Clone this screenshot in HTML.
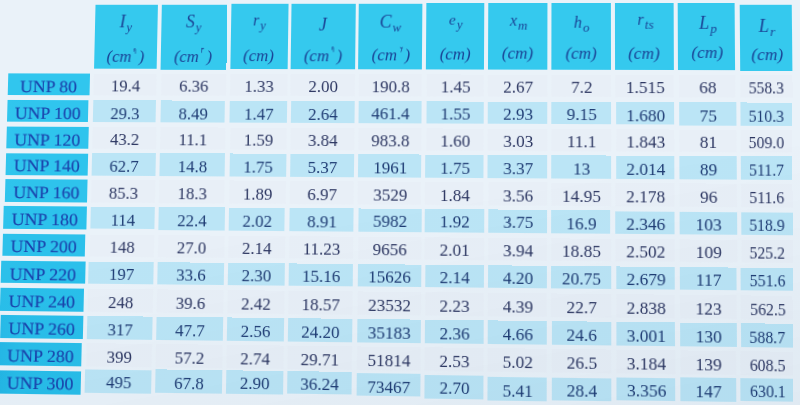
<!DOCTYPE html>
<html><head><meta charset="utf-8"><style>
html,body{margin:0;padding:0;}
body{width:800px;height:405px;overflow:hidden;position:relative;background:#eaf2f9;font-family:"Liberation Serif",serif;}
#bgl{position:absolute;left:0;top:0;width:800px;height:405px;background:none;}
#shade{position:absolute;left:0;top:0;width:800px;height:405px;background:linear-gradient(170deg, rgba(0,50,90,0) 0%, rgba(0,50,90,0) 50%, rgba(0,50,90,0.04) 100%);pointer-events:none;}
#t{position:absolute;left:0;top:0;width:800px;height:405px;transform-origin:0 0;transform:matrix3d(0.9662331,-0.0001377,0,-0.000034999,-0.0269525,0.9759455,0,-0.000045831,0,0,1,0,3.52187,-0.10008,0,1);}
#wrap{position:absolute;left:0;top:0;width:800px;height:405px;filter:none;}
.c{position:absolute;box-sizing:border-box;}
.h{background:#35c9ee;}
.lab{background:#2dc6ed;}
.blue{background:#bbe5f6;}
.light{background:#e8eff7;}
.tx{position:absolute;left:0;right:0;text-align:center;white-space:nowrap;-webkit-text-stroke:0px currentColor;}
.h .tx{-webkit-text-stroke:0px currentColor;}
.lab .tx{-webkit-text-stroke:0.15px currentColor;}
.num{font-size:17px;color:#2d3762;line-height:20px;}
.blue .num{color:#1f3c74;}
.lt{font-size:17px;color:#1a43ac;line-height:20px;transform:scaleX(1.07);}
.sym{font-style:italic;font-size:18px;color:#1a4496;line-height:20px;}
.sym sub{font-size:13px;vertical-align:baseline;position:relative;top:4px;margin-left:1px;}
.unit{font-style:italic;font-size:17px;color:#1a4496;line-height:20px;}
.unit .sp{display:inline-block;vertical-align:baseline;position:relative;top:-9px;margin-left:1.5px;margin-right:1.5px;overflow:visible;}
.unit sup{margin-left:2px;font-size:9px;vertical-align:baseline;position:relative;top:-8px;font-style:normal;}
</style></head><body><div id="bgl"></div><div id="wrap"><div id="t">
<div class="c h" style="left:94.70px;top:4.61px;width:64.25px;height:65.87px"><div class="tx sym" style="top:7.0px;left:-0.2px;right:0.2px;font-size:18px">I<sub>y</sub></div><div class="tx unit" style="top:43.45px;left:0px;right:0px">(cm<svg class="sp" viewBox="0 0 10 14" width="4.5" height="5.5"><path d="M7,14 L7,4 Q7,1 4,2 Q2,3 4.5,5 Q2,6 3,8.5" fill="none" stroke="currentColor" stroke-width="1.8" stroke-linecap="round"/></svg>)</div></div>
<div class="c h" style="left:163.30px;top:4.96px;width:66.64px;height:65.56px"><div class="tx sym" style="top:7.4px;left:-0.7px;right:0.7px;font-size:18px">S<sub>y</sub></div><div class="tx unit" style="top:43px;left:-0.9px;right:0.9px">(cm<svg class="sp" viewBox="0 0 10 14" width="4.5" height="5.5"><path d="M3,14 L3,3 M3,5 Q4,1 5.5,4.5 Q7,1 9,4" fill="none" stroke="currentColor" stroke-width="1.8" stroke-linecap="round"/></svg>)</div></div>
<div class="c h" style="left:233.69px;top:4.45px;width:58.01px;height:65.91px"><div class="tx sym" style="top:6.5px;left:0.0px;right:-0.0px;font-size:16px">r<sub>y</sub></div><div class="tx unit" style="top:42.25px;left:-0.3px;right:0.3px">(cm)</div></div>
<div class="c h" style="left:295.19px;top:3.95px;width:64.36px;height:66.27px"><div class="tx sym" style="top:10.95px;left:-0.35px;right:0.35px;font-size:18px">J</div><div class="tx unit" style="top:43px;left:0.15px;right:-0.15px">(cm<svg class="sp" viewBox="0 0 10 14" width="4.5" height="5.5"><path d="M7,14 L7,4 Q7,1 4,2 Q2,3 4.5,5 Q2,6 3,8.5" fill="none" stroke="currentColor" stroke-width="1.8" stroke-linecap="round"/></svg>)</div></div>
<div class="c h" style="left:363.33px;top:3.62px;width:63.95px;height:66.54px"><div class="tx sym" style="top:8.5px;left:-0.25px;right:0.25px;font-size:18px">C<sub>w</sub></div><div class="tx unit" style="top:42.8px;left:0.6px;right:-0.6px">(cm<svg class="sp" viewBox="0 0 10 14" width="4.5" height="5.5"><path d="M2,2.5 Q5,5.5 8,2.5 M7.5,3 Q6,8 4,14" fill="none" stroke="currentColor" stroke-width="1.8" stroke-linecap="round"/></svg>)</div></div>
<div class="c h" style="left:431.48px;top:3.29px;width:57.50px;height:66.81px"><div class="tx sym" style="top:6.7px;left:0.4px;right:-0.4px;font-size:15.5px">e<sub>y</sub></div><div class="tx unit" style="top:42px;left:0px;right:0px">(cm)</div></div>
<div class="c h" style="left:493.27px;top:3.14px;width:58.64px;height:66.71px"><div class="tx sym" style="top:7.5px;left:0.8px;right:-0.8px;font-size:16px">x<sub>m</sub></div><div class="tx unit" style="top:41px;left:-0.15px;right:0.15px">(cm)</div></div>
<div class="c h" style="left:556.18px;top:3.00px;width:59.12px;height:66.62px"><div class="tx sym" style="top:9.9px;left:0.3px;right:-0.3px;font-size:16px">h<sub>o</sub></div><div class="tx unit" style="top:41px;left:-0.25px;right:0.25px">(cm)</div></div>
<div class="c h" style="left:619.01px;top:3.15px;width:57.92px;height:66.77px"><div class="tx sym" style="top:7.3px;left:1.3px;right:-1.3px;font-size:16px">r<sub>ts</sub></div><div class="tx unit" style="top:41px;left:-0.45px;right:0.45px">(cm)</div></div>
<div class="c h" style="left:681.26px;top:3.30px;width:56.09px;height:66.92px"><div class="tx sym" style="top:9.5px;left:1.4px;right:-1.4px;font-size:18px">L<sub>p</sub></div><div class="tx unit" style="top:39.7px;left:0.65px;right:-0.65px">(cm)</div></div>
<div class="c h" style="left:741.76px;top:4.90px;width:51.16px;height:65.98px"><div class="tx sym" style="top:11.6px;left:1.3px;right:-1.3px;font-size:18px">L<sub>r</sub></div><div class="tx unit" style="top:40.5px;left:1.25px;right:-1.25px">(cm)</div></div>
<div class="c lab" style="background:linear-gradient(90deg,#31c6ee,#31c6ee 25%);left:7.10px;top:74.83px;width:83.52px;height:22.23px"><div class="tx lt" style="top:3.8px;left:0px;right:0px">UNP 80</div></div>
<div class="c light" style="left:94.82px;top:74.83px;width:64.39px;height:22.23px"><div class="tx num" style="top:3.5px;left:0.5px;right:-0.5px">19.4</div></div>
<div class="c light" style="left:163.55px;top:74.83px;width:66.06px;height:22.23px"><div class="tx num" style="top:3.5px;left:0.5px;right:-0.5px">6.36</div></div>
<div class="c light" style="left:234.03px;top:74.83px;width:57.81px;height:22.23px"><div class="tx num" style="top:3.5px;left:0.5px;right:-0.5px">1.33</div></div>
<div class="c light" style="left:295.34px;top:74.83px;width:64.37px;height:22.23px"><div class="tx num" style="top:3.5px;left:0.5px;right:-0.5px">2.00</div></div>
<div class="c light" style="left:363.73px;top:74.83px;width:63.26px;height:22.23px"><div class="tx num" style="top:3.5px;left:0.5px;right:-0.5px">190.8</div></div>
<div class="c light" style="left:431.59px;top:74.83px;width:57.40px;height:22.23px"><div class="tx num" style="top:3.5px;left:0.5px;right:-0.5px">1.45</div></div>
<div class="c light" style="left:493.25px;top:74.83px;width:58.83px;height:22.23px"><div class="tx num" style="top:3.5px;left:0.5px;right:-0.5px">2.67</div></div>
<div class="c light" style="left:556.07px;top:74.83px;width:59.19px;height:22.23px"><div class="tx num" style="top:3.5px;left:0.5px;right:-0.5px">7.2</div></div>
<div class="c light" style="left:619.46px;top:74.83px;width:57.72px;height:22.23px"><div class="tx num" style="top:3.5px;left:0.5px;right:-0.5px">1.515</div></div>
<div class="c light" style="left:681.79px;top:74.83px;width:55.70px;height:22.23px"><div class="tx num" style="top:3.5px;left:0.5px;right:-0.5px">68</div></div>
<div class="c light" style="left:741.84px;top:74.83px;width:50.73px;height:22.23px"><div class="tx num" style="top:3.5px;left:0.5px;right:-0.5px;transform:scaleX(0.9)">558.3</div></div>
<div class="c lab" style="background:linear-gradient(90deg,#31c6ee,#30c5ee 25%);left:7.13px;top:101.82px;width:83.31px;height:22.47px"><div class="tx lt" style="top:3.8px;left:0px;right:0px">UNP 100</div></div>
<div class="c blue" style="left:94.94px;top:102.16px;width:64.54px;height:22.21px"><div class="tx num" style="top:3.5px;left:0.5px;right:-0.5px">29.3</div></div>
<div class="c blue" style="left:163.81px;top:102.18px;width:65.49px;height:22.07px"><div class="tx num" style="top:3.5px;left:0.5px;right:-0.5px">8.49</div></div>
<div class="c blue" style="left:234.36px;top:102.20px;width:57.60px;height:21.94px"><div class="tx num" style="top:3.5px;left:0.5px;right:-0.5px">1.47</div></div>
<div class="c blue" style="left:295.50px;top:102.22px;width:64.38px;height:21.80px"><div class="tx num" style="top:3.5px;left:0.5px;right:-0.5px">2.64</div></div>
<div class="c blue" style="left:364.14px;top:101.99px;width:62.57px;height:22.00px"><div class="tx num" style="top:3.5px;left:0.5px;right:-0.5px">461.4</div></div>
<div class="c blue" style="left:431.70px;top:101.77px;width:57.30px;height:22.20px"><div class="tx num" style="top:3.5px;left:0.5px;right:-0.5px">1.55</div></div>
<div class="c blue" style="left:493.23px;top:101.54px;width:59.03px;height:22.40px"><div class="tx num" style="top:3.5px;left:0.5px;right:-0.5px">2.93</div></div>
<div class="c blue" style="left:555.97px;top:101.94px;width:59.25px;height:22.10px"><div class="tx num" style="top:3.5px;left:0.5px;right:-0.5px">9.15</div></div>
<div class="c blue" style="left:619.90px;top:102.34px;width:57.51px;height:21.80px"><div class="tx num" style="top:3.5px;left:0.5px;right:-0.5px">1.680</div></div>
<div class="c blue" style="left:682.32px;top:102.23px;width:55.30px;height:22.29px"><div class="tx num" style="top:3.5px;left:0.5px;right:-0.5px">75</div></div>
<div class="c blue" style="left:741.91px;top:102.13px;width:50.30px;height:22.79px"><div class="tx num" style="top:3.5px;left:0.5px;right:-0.5px;transform:scaleX(0.9)">510.3</div></div>
<div class="c lab" style="background:linear-gradient(90deg,#31c5ee,#2fc4ed 25%);left:7.05px;top:128.74px;width:83.72px;height:22.52px"><div class="tx lt" style="top:3.8px;left:0px;right:0px">UNP 120</div></div>
<div class="c light" style="left:94.94px;top:128.74px;width:64.65px;height:22.52px"><div class="tx num" style="top:3.5px;left:0.5px;right:-0.5px">43.2</div></div>
<div class="c light" style="left:163.91px;top:128.74px;width:65.73px;height:22.52px"><div class="tx num" style="top:3.5px;left:0.5px;right:-0.5px">11.1</div></div>
<div class="c light" style="left:234.50px;top:128.74px;width:57.34px;height:22.52px"><div class="tx num" style="top:3.5px;left:0.5px;right:-0.5px">1.59</div></div>
<div class="c light" style="left:295.74px;top:128.74px;width:64.05px;height:22.52px"><div class="tx num" style="top:3.5px;left:0.5px;right:-0.5px">3.84</div></div>
<div class="c light" style="left:364.24px;top:128.74px;width:62.68px;height:22.52px"><div class="tx num" style="top:3.5px;left:0.5px;right:-0.5px">983.8</div></div>
<div class="c light" style="left:431.60px;top:128.74px;width:57.54px;height:22.52px"><div class="tx num" style="top:3.5px;left:0.5px;right:-0.5px">1.60</div></div>
<div class="c light" style="left:493.35px;top:128.74px;width:58.95px;height:22.52px"><div class="tx num" style="top:3.5px;left:0.5px;right:-0.5px">3.03</div></div>
<div class="c light" style="left:556.01px;top:128.74px;width:59.00px;height:22.52px"><div class="tx num" style="top:3.5px;left:0.5px;right:-0.5px">11.1</div></div>
<div class="c light" style="left:619.74px;top:128.74px;width:57.68px;height:22.52px"><div class="tx num" style="top:3.5px;left:0.5px;right:-0.5px">1.843</div></div>
<div class="c light" style="left:682.20px;top:128.74px;width:55.47px;height:22.52px"><div class="tx num" style="top:3.5px;left:0.5px;right:-0.5px">81</div></div>
<div class="c light" style="left:741.93px;top:128.74px;width:50.15px;height:22.52px"><div class="tx num" style="top:3.5px;left:0.5px;right:-0.5px;transform:scaleX(0.9)">509.0</div></div>
<div class="c lab" style="background:linear-gradient(90deg,#30c5ed,#2fc4ed 25%);left:6.97px;top:155.50px;width:84.13px;height:22.46px"><div class="tx lt" style="top:3.8px;left:0px;right:0px">UNP 140</div></div>
<div class="c blue" style="left:94.93px;top:155.48px;width:64.76px;height:22.52px"><div class="tx num" style="top:3.5px;left:0.5px;right:-0.5px">62.7</div></div>
<div class="c blue" style="left:164.00px;top:155.47px;width:65.96px;height:22.57px"><div class="tx num" style="top:3.5px;left:0.5px;right:-0.5px">14.8</div></div>
<div class="c blue" style="left:234.64px;top:155.45px;width:57.08px;height:22.63px"><div class="tx num" style="top:3.5px;left:0.5px;right:-0.5px">1.75</div></div>
<div class="c blue" style="left:295.99px;top:155.43px;width:63.72px;height:22.68px"><div class="tx num" style="top:3.5px;left:0.5px;right:-0.5px">5.37</div></div>
<div class="c blue" style="left:364.34px;top:155.42px;width:62.79px;height:22.74px"><div class="tx num" style="top:3.5px;left:0.5px;right:-0.5px">1961</div></div>
<div class="c blue" style="left:431.49px;top:155.40px;width:57.77px;height:22.79px"><div class="tx num" style="top:3.5px;left:0.5px;right:-0.5px">1.75</div></div>
<div class="c blue" style="left:493.48px;top:155.39px;width:58.88px;height:22.85px"><div class="tx num" style="top:3.5px;left:0.5px;right:-0.5px">3.37</div></div>
<div class="c blue" style="left:556.06px;top:155.37px;width:58.74px;height:22.90px"><div class="tx num" style="top:3.5px;left:0.5px;right:-0.5px">13</div></div>
<div class="c blue" style="left:619.59px;top:155.35px;width:57.86px;height:22.96px"><div class="tx num" style="top:3.5px;left:0.5px;right:-0.5px">2.014</div></div>
<div class="c blue" style="left:682.09px;top:155.34px;width:55.65px;height:23.01px"><div class="tx num" style="top:3.5px;left:0.5px;right:-0.5px">89</div></div>
<div class="c blue" style="left:741.95px;top:155.32px;width:50.00px;height:23.07px"><div class="tx num" style="top:3.5px;left:0.5px;right:-0.5px;transform:scaleX(0.9)">511.7</div></div>
<div class="c lab" style="background:linear-gradient(90deg,#2fc4ed,#2ec3ec 25%);left:6.88px;top:182.49px;width:84.54px;height:22.41px"><div class="tx lt" style="top:3.8px;left:0px;right:0px">UNP 160</div></div>
<div class="c light" style="left:94.92px;top:182.49px;width:64.87px;height:22.41px"><div class="tx num" style="top:3.5px;left:0.5px;right:-0.5px">85.3</div></div>
<div class="c light" style="left:164.10px;top:182.49px;width:66.19px;height:22.41px"><div class="tx num" style="top:3.5px;left:0.5px;right:-0.5px">18.3</div></div>
<div class="c light" style="left:234.77px;top:182.49px;width:56.82px;height:22.41px"><div class="tx num" style="top:3.5px;left:0.5px;right:-0.5px">1.89</div></div>
<div class="c light" style="left:296.24px;top:182.49px;width:63.39px;height:22.41px"><div class="tx num" style="top:3.5px;left:0.5px;right:-0.5px">6.97</div></div>
<div class="c light" style="left:364.44px;top:182.49px;width:62.89px;height:22.41px"><div class="tx num" style="top:3.5px;left:0.5px;right:-0.5px">3529</div></div>
<div class="c light" style="left:431.38px;top:182.49px;width:58.01px;height:22.41px"><div class="tx num" style="top:3.5px;left:0.5px;right:-0.5px">1.84</div></div>
<div class="c light" style="left:493.60px;top:182.49px;width:58.80px;height:22.41px"><div class="tx num" style="top:3.5px;left:0.5px;right:-0.5px">3.56</div></div>
<div class="c light" style="left:556.10px;top:182.49px;width:58.48px;height:22.41px"><div class="tx num" style="top:3.5px;left:0.5px;right:-0.5px">14.95</div></div>
<div class="c light" style="left:619.43px;top:182.49px;width:58.03px;height:22.41px"><div class="tx num" style="top:3.5px;left:0.5px;right:-0.5px">2.178</div></div>
<div class="c light" style="left:681.98px;top:182.49px;width:55.82px;height:22.41px"><div class="tx num" style="top:3.5px;left:0.5px;right:-0.5px">96</div></div>
<div class="c light" style="left:741.97px;top:182.49px;width:49.85px;height:22.41px"><div class="tx num" style="top:3.5px;left:0.5px;right:-0.5px;transform:scaleX(0.9)">511.6</div></div>
<div class="c lab" style="background:linear-gradient(90deg,#2ec3ec,#2dc2ec 25%);left:6.35px;top:209.21px;width:84.75px;height:22.55px"><div class="tx lt" style="top:3.8px;left:0px;right:0px">UNP 180</div></div>
<div class="c blue" style="left:94.91px;top:209.25px;width:64.98px;height:21.74px"><div class="tx num" style="top:3.5px;left:0.5px;right:-0.5px">114</div></div>
<div class="c blue" style="left:164.20px;top:209.25px;width:66.43px;height:22.43px"><div class="tx num" style="top:3.5px;left:0.5px;right:-0.5px">22.4</div></div>
<div class="c blue" style="left:234.91px;top:209.26px;width:56.56px;height:23.12px"><div class="tx num" style="top:3.5px;left:0.5px;right:-0.5px">2.02</div></div>
<div class="c blue" style="left:296.49px;top:209.03px;width:63.06px;height:23.23px"><div class="tx num" style="top:3.5px;left:0.5px;right:-0.5px">8.91</div></div>
<div class="c blue" style="left:364.55px;top:208.80px;width:63.00px;height:23.34px"><div class="tx num" style="top:3.5px;left:0.5px;right:-0.5px">5982</div></div>
<div class="c blue" style="left:431.27px;top:208.57px;width:58.25px;height:23.45px"><div class="tx num" style="top:3.5px;left:0.5px;right:-0.5px">1.92</div></div>
<div class="c blue" style="left:493.73px;top:208.91px;width:58.73px;height:23.22px"><div class="tx num" style="top:3.5px;left:0.5px;right:-0.5px">3.75</div></div>
<div class="c blue" style="left:556.15px;top:209.26px;width:58.22px;height:22.98px"><div class="tx num" style="top:3.5px;left:0.5px;right:-0.5px">16.9</div></div>
<div class="c blue" style="left:619.27px;top:209.60px;width:58.20px;height:22.74px"><div class="tx num" style="top:3.5px;left:0.5px;right:-0.5px">2.346</div></div>
<div class="c blue" style="left:681.86px;top:209.94px;width:55.99px;height:22.51px"><div class="tx num" style="top:3.5px;left:0.5px;right:-0.5px">103</div></div>
<div class="c blue" style="left:741.98px;top:209.94px;width:49.70px;height:22.51px"><div class="tx num" style="top:3.5px;left:0.5px;right:-0.5px;transform:scaleX(0.9)">518.9</div></div>
<div class="c lab" style="background:linear-gradient(90deg,#2dc1eb,#2cc1eb 25%);left:6.34px;top:236.57px;width:83.83px;height:22.59px"><div class="tx lt" style="top:3.8px;left:0px;right:0px">UNP 200</div></div>
<div class="c light" style="left:94.67px;top:236.57px;width:65.22px;height:22.59px"><div class="tx num" style="top:3.5px;left:0.5px;right:-0.5px">148</div></div>
<div class="c light" style="left:164.12px;top:236.57px;width:66.56px;height:22.59px"><div class="tx num" style="top:3.5px;left:0.5px;right:-0.5px">27.0</div></div>
<div class="c light" style="left:234.88px;top:236.57px;width:56.65px;height:22.59px"><div class="tx num" style="top:3.5px;left:0.5px;right:-0.5px">2.14</div></div>
<div class="c light" style="left:296.37px;top:236.57px;width:63.19px;height:22.59px"><div class="tx num" style="top:3.5px;left:0.5px;right:-0.5px">11.23</div></div>
<div class="c light" style="left:364.55px;top:236.57px;width:63.07px;height:22.59px"><div class="tx num" style="top:3.5px;left:0.5px;right:-0.5px">9656</div></div>
<div class="c light" style="left:431.41px;top:236.57px;width:58.18px;height:22.59px"><div class="tx num" style="top:3.5px;left:0.5px;right:-0.5px">2.01</div></div>
<div class="c light" style="left:493.79px;top:236.57px;width:58.64px;height:22.59px"><div class="tx num" style="top:3.5px;left:0.5px;right:-0.5px">3.94</div></div>
<div class="c light" style="left:556.24px;top:236.57px;width:58.27px;height:22.59px"><div class="tx num" style="top:3.5px;left:0.5px;right:-0.5px">18.85</div></div>
<div class="c light" style="left:619.42px;top:236.57px;width:58.06px;height:22.59px"><div class="tx num" style="top:3.5px;left:0.5px;right:-0.5px">2.502</div></div>
<div class="c light" style="left:681.83px;top:236.57px;width:55.71px;height:22.59px"><div class="tx num" style="top:3.5px;left:0.5px;right:-0.5px">109</div></div>
<div class="c light" style="left:741.67px;top:236.57px;width:49.93px;height:22.59px"><div class="tx num" style="top:3.5px;left:0.5px;right:-0.5px;transform:scaleX(0.9)">525.2</div></div>
<div class="c lab" style="background:linear-gradient(90deg,#2cc0ea,#2bc0eb 25%);left:5.25px;top:263.86px;width:85.56px;height:22.24px"><div class="tx lt" style="top:3.8px;left:0px;right:0px">UNP 220</div></div>
<div class="c blue" style="left:94.43px;top:263.86px;width:65.46px;height:22.24px"><div class="tx num" style="top:3.5px;left:0.5px;right:-0.5px">197</div></div>
<div class="c blue" style="left:164.04px;top:263.86px;width:66.68px;height:22.24px"><div class="tx num" style="top:3.5px;left:0.5px;right:-0.5px">33.6</div></div>
<div class="c blue" style="left:234.84px;top:263.86px;width:56.74px;height:22.24px"><div class="tx num" style="top:3.5px;left:0.5px;right:-0.5px">2.30</div></div>
<div class="c blue" style="left:296.25px;top:263.86px;width:63.32px;height:22.24px"><div class="tx num" style="top:3.5px;left:0.5px;right:-0.5px">15.16</div></div>
<div class="c blue" style="left:364.55px;top:263.86px;width:63.14px;height:22.24px"><div class="tx num" style="top:3.5px;left:0.5px;right:-0.5px">15626</div></div>
<div class="c blue" style="left:431.55px;top:263.86px;width:58.12px;height:22.24px"><div class="tx num" style="top:3.5px;left:0.5px;right:-0.5px">2.14</div></div>
<div class="c blue" style="left:493.85px;top:263.86px;width:58.55px;height:22.24px"><div class="tx num" style="top:3.5px;left:0.5px;right:-0.5px">4.20</div></div>
<div class="c blue" style="left:556.32px;top:263.86px;width:58.31px;height:22.24px"><div class="tx num" style="top:3.5px;left:0.5px;right:-0.5px">20.75</div></div>
<div class="c blue" style="left:619.56px;top:263.86px;width:57.92px;height:22.24px"><div class="tx num" style="top:3.5px;left:0.5px;right:-0.5px">2.679</div></div>
<div class="c blue" style="left:681.80px;top:263.86px;width:55.43px;height:22.24px"><div class="tx num" style="top:3.5px;left:0.5px;right:-0.5px">117</div></div>
<div class="c blue" style="left:741.36px;top:263.86px;width:50.17px;height:22.24px"><div class="tx num" style="top:3.5px;left:0.5px;right:-0.5px;transform:scaleX(0.9)">551.6</div></div>
<div class="c lab" style="background:linear-gradient(90deg,#2abee9,#2abfea 25%);left:5.40px;top:291.08px;width:84.79px;height:22.78px"><div class="tx lt" style="top:3.8px;left:0px;right:0px">UNP 240</div></div>
<div class="c light" style="left:94.19px;top:291.08px;width:65.70px;height:22.78px"><div class="tx num" style="top:3.5px;left:0.5px;right:-0.5px">248</div></div>
<div class="c light" style="left:163.96px;top:291.08px;width:66.81px;height:22.78px"><div class="tx num" style="top:3.5px;left:0.5px;right:-0.5px">39.6</div></div>
<div class="c light" style="left:234.81px;top:291.08px;width:56.83px;height:22.78px"><div class="tx num" style="top:3.5px;left:0.5px;right:-0.5px">2.42</div></div>
<div class="c light" style="left:296.13px;top:291.08px;width:63.44px;height:22.78px"><div class="tx num" style="top:3.5px;left:0.5px;right:-0.5px">18.57</div></div>
<div class="c light" style="left:364.55px;top:291.08px;width:63.21px;height:22.78px"><div class="tx num" style="top:3.5px;left:0.5px;right:-0.5px">23532</div></div>
<div class="c light" style="left:431.69px;top:291.08px;width:58.05px;height:22.78px"><div class="tx num" style="top:3.5px;left:0.5px;right:-0.5px">2.23</div></div>
<div class="c light" style="left:493.91px;top:291.08px;width:58.45px;height:22.78px"><div class="tx num" style="top:3.5px;left:0.5px;right:-0.5px">4.39</div></div>
<div class="c light" style="left:556.41px;top:291.08px;width:58.36px;height:22.78px"><div class="tx num" style="top:3.5px;left:0.5px;right:-0.5px">22.7</div></div>
<div class="c light" style="left:619.70px;top:291.08px;width:57.78px;height:22.78px"><div class="tx num" style="top:3.5px;left:0.5px;right:-0.5px">2.838</div></div>
<div class="c light" style="left:681.76px;top:291.08px;width:55.15px;height:22.78px"><div class="tx num" style="top:3.5px;left:0.5px;right:-0.5px">123</div></div>
<div class="c light" style="left:741.05px;top:291.08px;width:50.40px;height:22.78px"><div class="tx num" style="top:3.5px;left:0.5px;right:-0.5px;transform:scaleX(0.9)">562.5</div></div>
<div class="c lab" style="background:linear-gradient(90deg,#28bbe8,#2abfea 25%);left:5.55px;top:318.03px;width:84.03px;height:22.82px"><div class="tx lt" style="top:3.8px;left:0px;right:0px">UNP 260</div></div>
<div class="c blue" style="left:93.95px;top:318.03px;width:65.94px;height:22.82px"><div class="tx num" style="top:3.5px;left:0.5px;right:-0.5px">317</div></div>
<div class="c blue" style="left:163.88px;top:318.03px;width:66.93px;height:22.82px"><div class="tx num" style="top:3.5px;left:0.5px;right:-0.5px">47.7</div></div>
<div class="c blue" style="left:234.77px;top:318.03px;width:56.91px;height:22.82px"><div class="tx num" style="top:3.5px;left:0.5px;right:-0.5px">2.56</div></div>
<div class="c blue" style="left:296.01px;top:318.03px;width:63.57px;height:22.82px"><div class="tx num" style="top:3.5px;left:0.5px;right:-0.5px">24.20</div></div>
<div class="c blue" style="left:364.55px;top:318.03px;width:63.28px;height:22.82px"><div class="tx num" style="top:3.5px;left:0.5px;right:-0.5px">35183</div></div>
<div class="c blue" style="left:431.83px;top:318.03px;width:57.99px;height:22.82px"><div class="tx num" style="top:3.5px;left:0.5px;right:-0.5px">2.36</div></div>
<div class="c blue" style="left:493.97px;top:318.03px;width:58.36px;height:22.82px"><div class="tx num" style="top:3.5px;left:0.5px;right:-0.5px">4.66</div></div>
<div class="c blue" style="left:556.50px;top:318.03px;width:58.41px;height:22.82px"><div class="tx num" style="top:3.5px;left:0.5px;right:-0.5px">24.6</div></div>
<div class="c blue" style="left:619.85px;top:318.03px;width:57.64px;height:22.82px"><div class="tx num" style="top:3.5px;left:0.5px;right:-0.5px">3.001</div></div>
<div class="c blue" style="left:681.73px;top:318.03px;width:54.87px;height:22.82px"><div class="tx num" style="top:3.5px;left:0.5px;right:-0.5px">130</div></div>
<div class="c blue" style="left:740.74px;top:318.03px;width:50.63px;height:22.82px"><div class="tx num" style="top:3.5px;left:0.5px;right:-0.5px;transform:scaleX(0.9)">588.7</div></div>
<div class="c lab" style="background:linear-gradient(90deg,#26b9e7,#29bee9 25%);left:5.55px;top:345.11px;width:82.96px;height:23.16px"><div class="tx lt" style="top:3.8px;left:0px;right:0px">UNP 280</div></div>
<div class="c light" style="left:93.71px;top:345.11px;width:66.18px;height:23.16px"><div class="tx num" style="top:3.5px;left:0.5px;right:-0.5px">399</div></div>
<div class="c light" style="left:163.79px;top:345.11px;width:67.06px;height:23.16px"><div class="tx num" style="top:3.5px;left:0.5px;right:-0.5px">57.2</div></div>
<div class="c light" style="left:234.74px;top:345.11px;width:57.00px;height:23.16px"><div class="tx num" style="top:3.5px;left:0.5px;right:-0.5px">2.74</div></div>
<div class="c light" style="left:295.89px;top:345.11px;width:63.70px;height:23.16px"><div class="tx num" style="top:3.5px;left:0.5px;right:-0.5px">29.71</div></div>
<div class="c light" style="left:364.56px;top:345.11px;width:63.35px;height:23.16px"><div class="tx num" style="top:3.5px;left:0.5px;right:-0.5px">51814</div></div>
<div class="c light" style="left:431.97px;top:345.11px;width:57.92px;height:23.16px"><div class="tx num" style="top:3.5px;left:0.5px;right:-0.5px">2.53</div></div>
<div class="c light" style="left:494.03px;top:345.11px;width:58.27px;height:23.16px"><div class="tx num" style="top:3.5px;left:0.5px;right:-0.5px">5.02</div></div>
<div class="c light" style="left:556.58px;top:345.11px;width:58.46px;height:23.16px"><div class="tx num" style="top:3.5px;left:0.5px;right:-0.5px">26.5</div></div>
<div class="c light" style="left:619.99px;top:345.11px;width:57.50px;height:23.16px"><div class="tx num" style="top:3.5px;left:0.5px;right:-0.5px">3.184</div></div>
<div class="c light" style="left:681.69px;top:345.11px;width:54.59px;height:23.16px"><div class="tx num" style="top:3.5px;left:0.5px;right:-0.5px">139</div></div>
<div class="c light" style="left:740.43px;top:345.11px;width:50.87px;height:23.16px"><div class="tx num" style="top:3.5px;left:0.5px;right:-0.5px;transform:scaleX(0.9)">608.5</div></div>
<div class="c lab" style="background:linear-gradient(90deg,#24b6e5,#28bde9 25%);left:5.55px;top:372.62px;width:83.58px;height:23.40px"><div class="tx lt" style="top:3.8px;left:0px;right:0px">UNP 300</div></div>
<div class="c blue" style="left:93.47px;top:370.81px;width:66.42px;height:23.04px"><div class="tx num" style="top:3.5px;left:0.5px;right:-0.5px">495</div></div>
<div class="c blue" style="left:163.71px;top:370.33px;width:67.19px;height:22.91px"><div class="tx num" style="top:3.5px;left:0.5px;right:-0.5px">67.8</div></div>
<div class="c blue" style="left:234.70px;top:369.84px;width:57.09px;height:22.78px"><div class="tx num" style="top:3.5px;left:0.5px;right:-0.5px">2.90</div></div>
<div class="c blue" style="left:295.77px;top:369.74px;width:63.83px;height:22.73px"><div class="tx num" style="top:3.5px;left:0.5px;right:-0.5px">36.24</div></div>
<div class="c blue" style="left:364.56px;top:371.30px;width:63.41px;height:21.93px"><div class="tx num" style="top:3.5px;left:0.5px;right:-0.5px">73467</div></div>
<div class="c blue" style="left:432.11px;top:371.67px;width:57.85px;height:23.34px"><div class="tx num" style="top:3.5px;left:0.5px;right:-0.5px">2.70</div></div>
<div class="c blue" style="left:494.09px;top:373.19px;width:58.18px;height:22.41px"><div class="tx num" style="top:3.5px;left:0.5px;right:-0.5px">5.41</div></div>
<div class="c blue" style="left:556.67px;top:372.53px;width:58.50px;height:22.48px"><div class="tx num" style="top:3.5px;left:0.5px;right:-0.5px">28.4</div></div>
<div class="c blue" style="left:620.14px;top:371.87px;width:57.36px;height:22.55px"><div class="tx num" style="top:3.5px;left:0.5px;right:-0.5px">3.356</div></div>
<div class="c blue" style="left:681.66px;top:371.21px;width:54.31px;height:22.62px"><div class="tx num" style="top:3.5px;left:0.5px;right:-0.5px">147</div></div>
<div class="c blue" style="left:740.12px;top:370.56px;width:51.10px;height:22.69px"><div class="tx num" style="top:3.5px;left:0.5px;right:-0.5px;transform:scaleX(0.9)">630.1</div></div>
</div></div><div id="shade"></div></body></html>
